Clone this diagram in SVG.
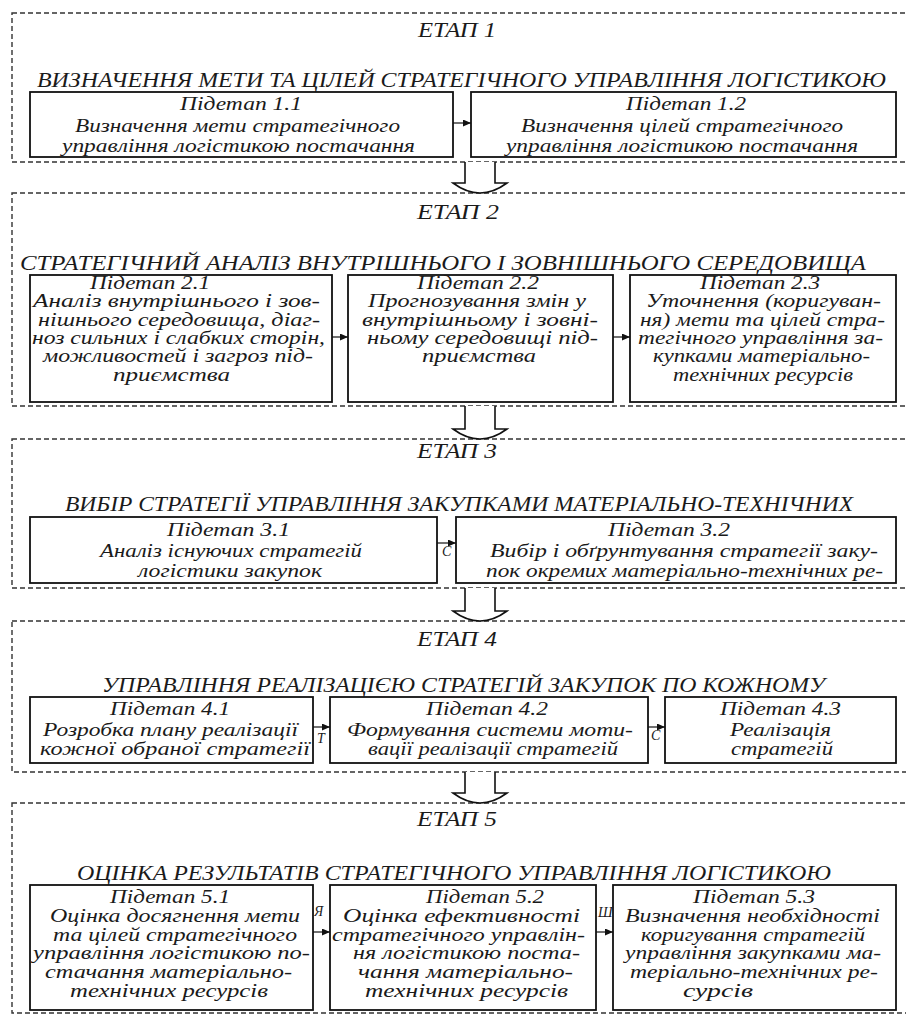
<svg xmlns="http://www.w3.org/2000/svg" width="906" height="1015" viewBox="0 0 906 1015">
<style>
  .stage{fill:none;stroke:#333;stroke-width:1.4;stroke-dasharray:5 3}
  .box{fill:#fff;stroke:#111;stroke-width:1.8}
  .t{font-family:"Liberation Serif","Times New Roman",serif;font-style:italic;font-size:18px;fill:#1a1a1a}
  .h{font-family:"Liberation Serif","Times New Roman",serif;font-style:italic;font-size:20px;fill:#1a1a1a}
  .g{font-family:"Liberation Serif","Times New Roman",serif;font-style:italic;font-size:14px;fill:#1a1a1a}
  .con{stroke:#111;stroke-width:1.2;fill:none;marker-end:url(#ah)}
  .blk{fill:#fff;stroke:#111;stroke-width:1.6}
</style>
<defs>
  <marker id="ah" markerWidth="8" markerHeight="7" refX="8" refY="3.5" orient="auto" markerUnits="userSpaceOnUse">
    <path d="M0,0 L8,3.5 L0,7 Z" fill="#111"/>
  </marker>
</defs>
<rect width="906" height="1015" fill="#fff"/>

<!-- STAGE 1 -->
<g id="stage1">
  <rect class="stage" x="12" y="13" width="900" height="149"/>
  <text class="h" x="418" y="37" textLength="78" lengthAdjust="spacingAndGlyphs">ЕТАП 1</text>
  <text class="h" x="37" y="87" textLength="849" lengthAdjust="spacingAndGlyphs">ВИЗНАЧЕННЯ МЕТИ ТА ЦІЛЕЙ СТРАТЕГІЧНОГО УПРАВЛІННЯ ЛОГІСТИКОЮ</text>
</g>
<g id="n11">
  <rect class="box" x="30" y="92" width="423" height="65"/>
  <text class="t" x="180" y="110" textLength="122" lengthAdjust="spacingAndGlyphs">Підетап 1.1</text>
  <text class="t" x="75" y="132" textLength="325" lengthAdjust="spacingAndGlyphs">Визначення мети стратегічного</text>
  <text class="t" x="62" y="152" textLength="353" lengthAdjust="spacingAndGlyphs">управління логістикою постачання</text>
</g>
<g id="n12">
  <rect class="box" x="471" y="92" width="425" height="65"/>
  <text class="t" x="626" y="110" textLength="120" lengthAdjust="spacingAndGlyphs">Підетап 1.2</text>
  <text class="t" x="521" y="132" textLength="322" lengthAdjust="spacingAndGlyphs">Визначення цілей стратегічного</text>
  <text class="t" x="506" y="152" textLength="352" lengthAdjust="spacingAndGlyphs">управління логістикою постачання</text>
</g>

<!-- STAGE 2 -->
<g id="stage2">
  <rect class="stage" x="12" y="193" width="900" height="213"/>
  <text class="h" x="417" y="219" textLength="82" lengthAdjust="spacingAndGlyphs">ЕТАП 2</text>
  <text class="h" x="20" y="270" textLength="846" lengthAdjust="spacingAndGlyphs">СТРАТЕГІЧНИЙ АНАЛІЗ ВНУТРІШНЬОГО І ЗОВНІШНЬОГО СЕРЕДОВИЩА</text>
</g>
<g id="n21">
  <rect class="box" x="30" y="275" width="302" height="127"/>
  <text class="t" x="90" y="289" textLength="120" lengthAdjust="spacingAndGlyphs">Підетап 2.1</text>
  <text class="t" x="33" y="307.3" textLength="287" lengthAdjust="spacingAndGlyphs">Аналіз внутрішнього і зов-</text>
  <text class="t" x="38" y="325.6" textLength="282" lengthAdjust="spacingAndGlyphs">нішнього середовища, діаг-</text>
  <text class="t" x="32" y="343.9" textLength="293" lengthAdjust="spacingAndGlyphs">ноз сильних і слабких сторін,</text>
  <text class="t" x="43" y="362.2" textLength="270" lengthAdjust="spacingAndGlyphs">можливостей і загроз під-</text>
  <text class="t" x="113" y="380.5" textLength="117" lengthAdjust="spacingAndGlyphs">приємства</text>
</g>
<g id="n22">
  <rect class="box" x="348" y="275" width="265" height="127"/>
  <text class="t" x="417" y="289" textLength="122" lengthAdjust="spacingAndGlyphs">Підетап 2.2</text>
  <text class="t" x="368" y="307.3" textLength="218" lengthAdjust="spacingAndGlyphs">Прогнозування змін у</text>
  <text class="t" x="362" y="325.6" textLength="236" lengthAdjust="spacingAndGlyphs">внутрішньому і зовні-</text>
  <text class="t" x="367" y="343.9" textLength="231" lengthAdjust="spacingAndGlyphs">ньому середовищі під-</text>
  <text class="t" x="422" y="362.2" textLength="114" lengthAdjust="spacingAndGlyphs">приємства</text>
</g>
<g id="n23">
  <rect class="box" x="630" y="275" width="266" height="127"/>
  <text class="t" x="700" y="289" textLength="120" lengthAdjust="spacingAndGlyphs">Підетап 2.3</text>
  <text class="t" x="646" y="307.3" textLength="235" lengthAdjust="spacingAndGlyphs">Уточнення (коригуван-</text>
  <text class="t" x="640" y="325.6" textLength="245" lengthAdjust="spacingAndGlyphs">ня) мети та цілей стра-</text>
  <text class="t" x="638" y="343.9" textLength="245" lengthAdjust="spacingAndGlyphs">тегічного управління за-</text>
  <text class="t" x="653" y="362.2" textLength="217" lengthAdjust="spacingAndGlyphs">купками матеріально-</text>
  <text class="t" x="673" y="380.5" textLength="180" lengthAdjust="spacingAndGlyphs">технічних ресурсів</text>
</g>

<!-- STAGE 3 -->
<g id="stage3">
  <rect class="stage" x="12" y="439" width="900" height="149"/>
  <text class="h" x="417" y="458" textLength="80" lengthAdjust="spacingAndGlyphs">ЕТАП 3</text>
  <text class="h" x="65" y="511" textLength="788" lengthAdjust="spacingAndGlyphs">ВИБІР СТРАТЕГІЇ УПРАВЛІННЯ ЗАКУПКАМИ МАТЕРІАЛЬНО-ТЕХНІЧНИХ</text>
</g>
<g id="n31">
  <rect class="box" x="30" y="517" width="407" height="66"/>
  <text class="t" x="167" y="536" textLength="123" lengthAdjust="spacingAndGlyphs">Підетап 3.1</text>
  <text class="t" x="100" y="557" textLength="262" lengthAdjust="spacingAndGlyphs">Аналіз існуючих стратегій</text>
  <text class="t" x="138" y="577" textLength="184" lengthAdjust="spacingAndGlyphs">логістики закупок</text>
</g>
<g id="n32">
  <rect class="box" x="456" y="517" width="440" height="66"/>
  <text class="t" x="608" y="536" textLength="122" lengthAdjust="spacingAndGlyphs">Підетап 3.2</text>
  <text class="t" x="490" y="557" textLength="388" lengthAdjust="spacingAndGlyphs">Вибір і обґрунтування стратегії заку-</text>
  <text class="t" x="486" y="577" textLength="397" lengthAdjust="spacingAndGlyphs">пок окремих матеріально-технічних ре-</text>
</g>

<!-- STAGE 4 -->
<g id="stage4">
  <rect class="stage" x="12" y="621" width="900" height="151"/>
  <text class="h" x="417" y="646" textLength="80" lengthAdjust="spacingAndGlyphs">ЕТАП 4</text>
  <text class="h" x="102" y="692" textLength="723" lengthAdjust="spacingAndGlyphs">УПРАВЛІННЯ РЕАЛІЗАЦІЄЮ СТРАТЕГІЙ ЗАКУПОК ПО КОЖНОМУ</text>
</g>
<g id="n41">
  <rect class="box" x="30" y="697" width="283" height="66"/>
  <text class="t" x="110" y="715" textLength="120" lengthAdjust="spacingAndGlyphs">Підетап 4.1</text>
  <text class="t" x="43" y="736" textLength="255" lengthAdjust="spacingAndGlyphs">Розробка плану реалізації</text>
  <text class="t" x="40" y="755" textLength="270" lengthAdjust="spacingAndGlyphs">кожної обраної стратегії</text>
</g>
<g id="n42">
  <rect class="box" x="330" y="697" width="318" height="66"/>
  <text class="t" x="426" y="715" textLength="122" lengthAdjust="spacingAndGlyphs">Підетап 4.2</text>
  <text class="t" x="347" y="736" textLength="286" lengthAdjust="spacingAndGlyphs">Формування системи моти-</text>
  <text class="t" x="368" y="755" textLength="250" lengthAdjust="spacingAndGlyphs">вації реалізації стратегій</text>
</g>
<g id="n43">
  <rect class="box" x="665" y="697" width="231" height="66"/>
  <text class="t" x="720" y="715" textLength="121" lengthAdjust="spacingAndGlyphs">Підетап 4.3</text>
  <text class="t" x="730" y="736" textLength="101" lengthAdjust="spacingAndGlyphs">Реалізація</text>
  <text class="t" x="731" y="755" textLength="102" lengthAdjust="spacingAndGlyphs">стратегій</text>
</g>

<!-- STAGE 5 -->
<g id="stage5">
  <rect class="stage" x="12" y="803" width="900" height="210"/>
  <text class="h" x="417" y="826" textLength="80" lengthAdjust="spacingAndGlyphs">ЕТАП 5</text>
  <text class="h" x="77" y="880" textLength="754" lengthAdjust="spacingAndGlyphs">ОЦІНКА РЕЗУЛЬТАТІВ СТРАТЕГІЧНОГО УПРАВЛІННЯ ЛОГІСТИКОЮ</text>
</g>
<g id="n51">
  <rect class="box" x="30" y="885" width="283" height="125"/>
  <text class="t" x="110" y="903" textLength="120" lengthAdjust="spacingAndGlyphs">Підетап 5.1</text>
  <text class="t" x="50" y="921.8" textLength="250" lengthAdjust="spacingAndGlyphs">Оцінка досягнення мети</text>
  <text class="t" x="53" y="940.6" textLength="244" lengthAdjust="spacingAndGlyphs">та цілей стратегічного</text>
  <text class="t" x="33" y="959.4" textLength="277" lengthAdjust="spacingAndGlyphs">управління логістикою по-</text>
  <text class="t" x="45" y="978.2" textLength="247" lengthAdjust="spacingAndGlyphs">стачання матеріально-</text>
  <text class="t" x="70" y="997" textLength="198" lengthAdjust="spacingAndGlyphs">технічних ресурсів</text>
</g>
<g id="n52">
  <rect class="box" x="330" y="885" width="266" height="125"/>
  <text class="t" x="426" y="903" textLength="118" lengthAdjust="spacingAndGlyphs">Підетап 5.2</text>
  <text class="t" x="343" y="921.8" textLength="237" lengthAdjust="spacingAndGlyphs">Оцінка ефективності</text>
  <text class="t" x="332" y="940.6" textLength="253" lengthAdjust="spacingAndGlyphs">стратегічного управлін-</text>
  <text class="t" x="353" y="959.4" textLength="227" lengthAdjust="spacingAndGlyphs">ня логістикою поста-</text>
  <text class="t" x="358" y="978.2" textLength="215" lengthAdjust="spacingAndGlyphs">чання матеріально-</text>
  <text class="t" x="365" y="997" textLength="203" lengthAdjust="spacingAndGlyphs">технічних ресурсів</text>
</g>
<g id="n53">
  <rect class="box" x="613" y="885" width="283" height="125"/>
  <text class="t" x="693" y="903" textLength="122" lengthAdjust="spacingAndGlyphs">Підетап 5.3</text>
  <text class="t" x="625" y="921.8" textLength="255" lengthAdjust="spacingAndGlyphs">Визначення необхідності</text>
  <text class="t" x="641" y="940.6" textLength="224" lengthAdjust="spacingAndGlyphs">коригування стратегій</text>
  <text class="t" x="625" y="959.4" textLength="256" lengthAdjust="spacingAndGlyphs">управління закупками ма-</text>
  <text class="t" x="630" y="978.2" textLength="248" lengthAdjust="spacingAndGlyphs">теріально-технічних ре-</text>
  <text class="t" x="683" y="997" textLength="70" lengthAdjust="spacingAndGlyphs">сурсів</text>
</g>

<!-- CONNECTORS -->
<g id="connectors">
  <line class="con" x1="453" y1="123" x2="471" y2="123"/>
  <line class="con" x1="332" y1="337" x2="348" y2="337"/>
  <line class="con" x1="613" y1="337" x2="630" y2="337"/>
  <line class="con" x1="437" y1="543" x2="456" y2="543"/>
  <line class="con" x1="313" y1="727" x2="330" y2="727"/>
  <line class="con" x1="648" y1="727" x2="665" y2="727"/>
  <line class="con" x1="313" y1="932" x2="330" y2="932"/>
  <line class="con" x1="596" y1="932" x2="613" y2="932"/>
  <path class="blk" d="M465,162 V183 H453 Q480,203 507,183 H495 V162"/>
  <path class="blk" d="M465,406 V429 H453 Q480,449 507,429 H495 V406"/>
  <path class="blk" d="M465,588 V611 H453 Q480,631 507,611 H495 V588"/>
  <path class="blk" d="M465,772 V793 H453 Q480,813 507,793 H495 V772"/>
  <text class="g" x="442" y="556">С</text>
  <text class="g" x="317" y="743">Т</text>
  <text class="g" x="651" y="740">С</text>
  <text class="g" x="314" y="916">Я</text>
  <text class="g" x="598" y="917">Ш</text>
</g>
</svg>
